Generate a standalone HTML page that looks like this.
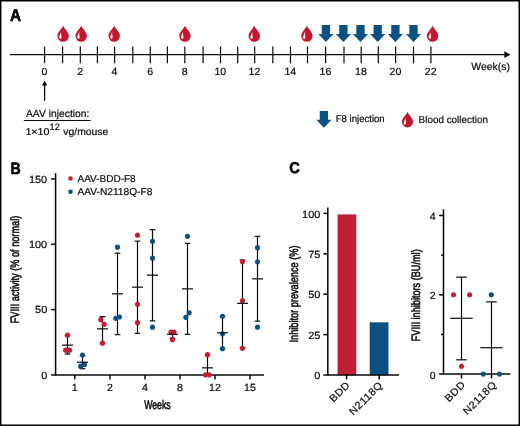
<!DOCTYPE html>
<html lang="en">
<head>
<meta charset="utf-8">
<title>Figure</title>
<style>
html,body{margin:0;padding:0;background:#fff;}
body{width:520px;height:426px;overflow:hidden;position:relative;}
svg{position:absolute;left:0;top:0;display:block;font-family:"Liberation Sans",Arial,Helvetica,sans-serif;}
text{stroke:#0a0a0a;stroke-width:0.2px;stroke-linejoin:round;text-rendering:geometricPrecision;}
.frame{position:absolute;left:0;top:0;width:520px;height:426px;box-sizing:border-box;border-style:solid;border-color:#000;border-width:1.3px 2px 1.5px 1.3px;pointer-events:none;}
</style>
</head>
<body>
<svg width="520" height="426" viewBox="0 0 520 426">
<rect x="0" y="0" width="520" height="426" fill="#fff"/>
<text transform="translate(10,20.5) scale(1,1.1)" font-size="15.4" font-weight="bold" fill="#000" style="stroke:#000;stroke-width:0.6px">A</text>
<line x1="10" y1="54.6" x2="505" y2="54.6" stroke="#0a0a0a" stroke-width="1.15" />
<path d="M510.6,54.6 L504.4,51.300000000000004 L504.4,57.9 Z" fill="#0a0a0a"/>
<line x1="44.6" y1="46.4" x2="44.6" y2="63.3" stroke="#0a0a0a" stroke-width="1.2" />
<line x1="62.6" y1="46.4" x2="62.6" y2="63.3" stroke="#0a0a0a" stroke-width="1.2" />
<line x1="80.3" y1="46.4" x2="80.3" y2="63.3" stroke="#0a0a0a" stroke-width="1.2" />
<line x1="97.4" y1="46.4" x2="97.4" y2="63.3" stroke="#0a0a0a" stroke-width="1.2" />
<line x1="114.6" y1="46.4" x2="114.6" y2="63.3" stroke="#0a0a0a" stroke-width="1.2" />
<line x1="132.8" y1="46.4" x2="132.8" y2="63.3" stroke="#0a0a0a" stroke-width="1.2" />
<line x1="150.3" y1="46.4" x2="150.3" y2="63.3" stroke="#0a0a0a" stroke-width="1.2" />
<line x1="167.4" y1="46.4" x2="167.4" y2="63.3" stroke="#0a0a0a" stroke-width="1.2" />
<line x1="184.8" y1="46.4" x2="184.8" y2="63.3" stroke="#0a0a0a" stroke-width="1.2" />
<line x1="203.1" y1="46.4" x2="203.1" y2="63.3" stroke="#0a0a0a" stroke-width="1.2" />
<line x1="220.5" y1="46.4" x2="220.5" y2="63.3" stroke="#0a0a0a" stroke-width="1.2" />
<line x1="237.7" y1="46.4" x2="237.7" y2="63.3" stroke="#0a0a0a" stroke-width="1.2" />
<line x1="254.7" y1="46.4" x2="254.7" y2="63.3" stroke="#0a0a0a" stroke-width="1.2" />
<line x1="272.8" y1="46.4" x2="272.8" y2="63.3" stroke="#0a0a0a" stroke-width="1.2" />
<line x1="290.5" y1="46.4" x2="290.5" y2="63.3" stroke="#0a0a0a" stroke-width="1.2" />
<line x1="307.5" y1="46.4" x2="307.5" y2="63.3" stroke="#0a0a0a" stroke-width="1.2" />
<line x1="325.6" y1="46.4" x2="325.6" y2="63.3" stroke="#0a0a0a" stroke-width="1.2" />
<line x1="344.0" y1="46.4" x2="344.0" y2="63.3" stroke="#0a0a0a" stroke-width="1.2" />
<line x1="361.2" y1="46.4" x2="361.2" y2="63.3" stroke="#0a0a0a" stroke-width="1.2" />
<line x1="378.3" y1="46.4" x2="378.3" y2="63.3" stroke="#0a0a0a" stroke-width="1.2" />
<line x1="395.6" y1="46.4" x2="395.6" y2="63.3" stroke="#0a0a0a" stroke-width="1.2" />
<line x1="413.5" y1="46.4" x2="413.5" y2="63.3" stroke="#0a0a0a" stroke-width="1.2" />
<line x1="430.9" y1="46.4" x2="430.9" y2="63.3" stroke="#0a0a0a" stroke-width="1.2" />
<text transform="translate(44.4,74.9) scale(1.02,1.0)" font-size="10.4" text-anchor="middle" fill="#0a0a0a">0</text>
<text transform="translate(80.1,74.9) scale(1.02,1.0)" font-size="10.4" text-anchor="middle" fill="#0a0a0a">2</text>
<text transform="translate(114.39999999999999,74.9) scale(1.02,1.0)" font-size="10.4" text-anchor="middle" fill="#0a0a0a">4</text>
<text transform="translate(150.10000000000002,74.9) scale(1.02,1.0)" font-size="10.4" text-anchor="middle" fill="#0a0a0a">6</text>
<text transform="translate(184.60000000000002,74.9) scale(1.02,1.0)" font-size="10.4" text-anchor="middle" fill="#0a0a0a">8</text>
<text transform="translate(220.3,74.9) scale(1.02,1.0)" font-size="10.4" text-anchor="middle" fill="#0a0a0a">10</text>
<text transform="translate(254.5,74.9) scale(1.02,1.0)" font-size="10.4" text-anchor="middle" fill="#0a0a0a">12</text>
<text transform="translate(290.3,74.9) scale(1.02,1.0)" font-size="10.4" text-anchor="middle" fill="#0a0a0a">14</text>
<text transform="translate(325.40000000000003,74.9) scale(1.02,1.0)" font-size="10.4" text-anchor="middle" fill="#0a0a0a">16</text>
<text transform="translate(361.0,74.9) scale(1.02,1.0)" font-size="10.4" text-anchor="middle" fill="#0a0a0a">18</text>
<text transform="translate(395.40000000000003,74.9) scale(1.02,1.0)" font-size="10.4" text-anchor="middle" fill="#0a0a0a">20</text>
<text transform="translate(430.7,74.9) scale(1.02,1.0)" font-size="10.4" text-anchor="middle" fill="#0a0a0a">22</text>
<text transform="translate(471.2,69.9) scale(1.0078,1.0)" font-size="10.4" text-anchor="start" font-weight="normal" fill="#0a0a0a" >Week(s)</text>
<g transform="translate(63.1,33.8) scale(1.0)"><path d="M0,-8 C1.6,-4.8 5.7,-1.6 5.7,2.3 A5.7,5.7 0 0 1 -5.7,2.3 C-5.7,-1.6 -1.6,-4.8 0,-8 Z" fill="#c1182f"/><path d="M-2.1,-2.2 C-2.05,0.6 -1.6,2.3 -1.6,3.9 C-1.6,5.3 -4.0,5.3 -4.0,3.8 C-4.0,2.6 -2.9,1.2 -2.1,-2.2 Z" fill="#fff"/></g>
<g transform="translate(81.2,33.8) scale(1.0)"><path d="M0,-8 C1.6,-4.8 5.7,-1.6 5.7,2.3 A5.7,5.7 0 0 1 -5.7,2.3 C-5.7,-1.6 -1.6,-4.8 0,-8 Z" fill="#c1182f"/><path d="M-2.1,-2.2 C-2.05,0.6 -1.6,2.3 -1.6,3.9 C-1.6,5.3 -4.0,5.3 -4.0,3.8 C-4.0,2.6 -2.9,1.2 -2.1,-2.2 Z" fill="#fff"/></g>
<g transform="translate(114.2,33.8) scale(1.0)"><path d="M0,-8 C1.6,-4.8 5.7,-1.6 5.7,2.3 A5.7,5.7 0 0 1 -5.7,2.3 C-5.7,-1.6 -1.6,-4.8 0,-8 Z" fill="#c1182f"/><path d="M-2.1,-2.2 C-2.05,0.6 -1.6,2.3 -1.6,3.9 C-1.6,5.3 -4.0,5.3 -4.0,3.8 C-4.0,2.6 -2.9,1.2 -2.1,-2.2 Z" fill="#fff"/></g>
<g transform="translate(185.0,33.8) scale(1.0)"><path d="M0,-8 C1.6,-4.8 5.7,-1.6 5.7,2.3 A5.7,5.7 0 0 1 -5.7,2.3 C-5.7,-1.6 -1.6,-4.8 0,-8 Z" fill="#c1182f"/><path d="M-2.1,-2.2 C-2.05,0.6 -1.6,2.3 -1.6,3.9 C-1.6,5.3 -4.0,5.3 -4.0,3.8 C-4.0,2.6 -2.9,1.2 -2.1,-2.2 Z" fill="#fff"/></g>
<g transform="translate(254.3,33.8) scale(1.0)"><path d="M0,-8 C1.6,-4.8 5.7,-1.6 5.7,2.3 A5.7,5.7 0 0 1 -5.7,2.3 C-5.7,-1.6 -1.6,-4.8 0,-8 Z" fill="#c1182f"/><path d="M-2.1,-2.2 C-2.05,0.6 -1.6,2.3 -1.6,3.9 C-1.6,5.3 -4.0,5.3 -4.0,3.8 C-4.0,2.6 -2.9,1.2 -2.1,-2.2 Z" fill="#fff"/></g>
<g transform="translate(306.9,33.8) scale(1.0)"><path d="M0,-8 C1.6,-4.8 5.7,-1.6 5.7,2.3 A5.7,5.7 0 0 1 -5.7,2.3 C-5.7,-1.6 -1.6,-4.8 0,-8 Z" fill="#c1182f"/><path d="M-2.1,-2.2 C-2.05,0.6 -1.6,2.3 -1.6,3.9 C-1.6,5.3 -4.0,5.3 -4.0,3.8 C-4.0,2.6 -2.9,1.2 -2.1,-2.2 Z" fill="#fff"/></g>
<g transform="translate(432.6,33.8) scale(1.0)"><path d="M0,-8 C1.6,-4.8 5.7,-1.6 5.7,2.3 A5.7,5.7 0 0 1 -5.7,2.3 C-5.7,-1.6 -1.6,-4.8 0,-8 Z" fill="#c1182f"/><path d="M-2.1,-2.2 C-2.05,0.6 -1.6,2.3 -1.6,3.9 C-1.6,5.3 -4.0,5.3 -4.0,3.8 C-4.0,2.6 -2.9,1.2 -2.1,-2.2 Z" fill="#fff"/></g>
<g transform="translate(325.9,25.1) scale(1.0)"><path d="M-4.15,0 H4.15 V8.8 H7.6 L0,16.8 L-7.6,8.8 H-4.15 Z" fill="#0d5084"/></g>
<g transform="translate(343.4,25.1) scale(1.0)"><path d="M-4.15,0 H4.15 V8.8 H7.6 L0,16.8 L-7.6,8.8 H-4.15 Z" fill="#0d5084"/></g>
<g transform="translate(360.5,25.1) scale(1.0)"><path d="M-4.15,0 H4.15 V8.8 H7.6 L0,16.8 L-7.6,8.8 H-4.15 Z" fill="#0d5084"/></g>
<g transform="translate(377.7,25.1) scale(1.0)"><path d="M-4.15,0 H4.15 V8.8 H7.6 L0,16.8 L-7.6,8.8 H-4.15 Z" fill="#0d5084"/></g>
<g transform="translate(395.4,25.1) scale(1.0)"><path d="M-4.15,0 H4.15 V8.8 H7.6 L0,16.8 L-7.6,8.8 H-4.15 Z" fill="#0d5084"/></g>
<g transform="translate(413.5,25.1) scale(1.0)"><path d="M-4.15,0 H4.15 V8.8 H7.6 L0,16.8 L-7.6,8.8 H-4.15 Z" fill="#0d5084"/></g>
<line x1="44.6" y1="84" x2="44.6" y2="100.7" stroke="#0a0a0a" stroke-width="1.3" />
<path d="M44.6,80.7 L41.9,85.6 L47.3,85.6 Z" fill="#0a0a0a"/>
<text transform="translate(26,117.3) scale(1.0009,1.0)" font-size="10.3" text-anchor="start" font-weight="normal" fill="#0a0a0a" >AAV injection:</text>
<line x1="23.8" y1="120.5" x2="90.5" y2="120.5" stroke="#0a0a0a" stroke-width="1" />
<text transform="translate(25.4,134.5) scale(1.0652,1.0)" font-size="10" text-anchor="start" font-weight="normal" fill="#0a0a0a" >1×10</text>
<text transform="translate(49.5,130.3) scale(1.0162,1.0)" font-size="9.2" text-anchor="start" font-weight="normal" fill="#0a0a0a" >12</text>
<text transform="translate(63.3,134.5) scale(1.0378,1.0)" font-size="10" text-anchor="start" font-weight="normal" fill="#0a0a0a" >vg/mouse</text>
<g transform="translate(323.9,111.0) scale(1.0)"><path d="M-4.15,0 H4.15 V8.8 H7.6 L0,16.8 L-7.6,8.8 H-4.15 Z" fill="#0d5084"/></g>
<text transform="translate(335.7,122.2) scale(0.9703,1.0)" font-size="9.9" text-anchor="start" font-weight="normal" fill="#0a0a0a" >F8 injection</text>
<g transform="translate(407.5,119.7) scale(0.97)"><path d="M0,-8 C1.6,-4.8 5.7,-1.6 5.7,2.3 A5.7,5.7 0 0 1 -5.7,2.3 C-5.7,-1.6 -1.6,-4.8 0,-8 Z" fill="#c1182f"/><path d="M-2.1,-2.2 C-2.05,0.6 -1.6,2.3 -1.6,3.9 C-1.6,5.3 -4.0,5.3 -4.0,3.8 C-4.0,2.6 -2.9,1.2 -2.1,-2.2 Z" fill="#fff"/></g>
<text transform="translate(418.6,122.7) scale(0.9893,1.0)" font-size="10" text-anchor="start" font-weight="normal" fill="#0a0a0a" >Blood collection</text>
<text transform="translate(10.4,173.9) scale(0.92,1.07)" font-size="15.4" font-weight="bold" fill="#000" style="stroke:#000;stroke-width:0.6px">B</text>
<line x1="55.6" y1="173.2" x2="55.6" y2="375.75" stroke="#0a0a0a" stroke-width="1.55" />
<line x1="51.2" y1="375.0" x2="264" y2="375.0" stroke="#0a0a0a" stroke-width="1.5" />
<text transform="translate(47.2,378.6) scale(1.05,1.0)" font-size="10.4" text-anchor="end" fill="#0a0a0a">0</text>
<line x1="51.2" y1="309.63" x2="55.6" y2="309.63" stroke="#0a0a0a" stroke-width="1.55" />
<text transform="translate(47.2,313.23) scale(1.05,1.0)" font-size="10.4" text-anchor="end" fill="#0a0a0a">50</text>
<line x1="51.2" y1="244.27" x2="55.6" y2="244.27" stroke="#0a0a0a" stroke-width="1.55" />
<text transform="translate(47.2,247.87) scale(1.05,1.0)" font-size="10.4" text-anchor="end" fill="#0a0a0a">100</text>
<line x1="51.2" y1="178.91" x2="55.6" y2="178.91" stroke="#0a0a0a" stroke-width="1.55" />
<text transform="translate(47.2,182.51) scale(1.05,1.0)" font-size="10.4" text-anchor="end" fill="#0a0a0a">150</text>
<line x1="74.8" y1="375.0" x2="74.8" y2="379.4" stroke="#0a0a0a" stroke-width="1.5" />
<text transform="translate(74.8,391.0) scale(1.02,1.0)" font-size="10.4" text-anchor="middle" fill="#0a0a0a">1</text>
<line x1="110" y1="375.0" x2="110" y2="379.4" stroke="#0a0a0a" stroke-width="1.5" />
<text transform="translate(110,391.0) scale(1.02,1.0)" font-size="10.4" text-anchor="middle" fill="#0a0a0a">2</text>
<line x1="145" y1="375.0" x2="145" y2="379.4" stroke="#0a0a0a" stroke-width="1.5" />
<text transform="translate(145,391.0) scale(1.02,1.0)" font-size="10.4" text-anchor="middle" fill="#0a0a0a">4</text>
<line x1="180" y1="375.0" x2="180" y2="379.4" stroke="#0a0a0a" stroke-width="1.5" />
<text transform="translate(180,391.0) scale(1.02,1.0)" font-size="10.4" text-anchor="middle" fill="#0a0a0a">8</text>
<line x1="215" y1="375.0" x2="215" y2="379.4" stroke="#0a0a0a" stroke-width="1.5" />
<text transform="translate(215,391.0) scale(1.02,1.0)" font-size="10.4" text-anchor="middle" fill="#0a0a0a">12</text>
<line x1="250" y1="375.0" x2="250" y2="379.4" stroke="#0a0a0a" stroke-width="1.5" />
<text transform="translate(250,391.0) scale(1.02,1.0)" font-size="10.4" text-anchor="middle" fill="#0a0a0a">15</text>
<text transform="translate(157.4,408.8) scale(0.6925,1.0)" font-size="12.6" text-anchor="middle" font-weight="normal" fill="#0a0a0a" style="stroke-width:0.55px" >Weeks</text>
<text transform="translate(19.2,269.5) rotate(-90) scale(0.7522,1.0)" font-size="12.2" text-anchor="middle" font-weight="normal" fill="#0a0a0a" style="stroke-width:0.55px" >FVIII activity (% of normal)</text>
<circle cx="70.5" cy="178.5" r="2.3" fill="#c41e35"/>
<circle cx="70.5" cy="191.8" r="2.3" fill="#0d5084"/>
<text transform="translate(77.5,181.8) scale(1.0,1.0)" font-size="10" text-anchor="start" fill="#0a0a0a">AAV-BDD-F8</text>
<text transform="translate(77.5,195.1) scale(1.018,1.0)" font-size="10" text-anchor="start" fill="#0a0a0a">AAV-N2118Q-F8</text>
<line x1="67.5" y1="335.65" x2="67.5" y2="354.05" stroke="#0a0a0a" stroke-width="1.2" />
<line x1="64.7" y1="335.65" x2="70.3" y2="335.65" stroke="#0a0a0a" stroke-width="1.2" />
<line x1="64.7" y1="354.05" x2="70.3" y2="354.05" stroke="#0a0a0a" stroke-width="1.2" />
<circle cx="67.5" cy="335.15" r="2.55" fill="#c41e35"/>
<circle cx="65.6" cy="350.15" r="2.55" fill="#c41e35"/>
<circle cx="69.5" cy="350.15" r="2.55" fill="#c41e35"/>
<line x1="62.0" y1="345.15" x2="73.0" y2="345.15" stroke="#0a0a0a" stroke-width="1.2" />
<line x1="82.5" y1="355.65" x2="82.5" y2="368.75" stroke="#0a0a0a" stroke-width="1.2" />
<line x1="79.7" y1="355.65" x2="85.3" y2="355.65" stroke="#0a0a0a" stroke-width="1.2" />
<line x1="79.7" y1="368.75" x2="85.3" y2="368.75" stroke="#0a0a0a" stroke-width="1.2" />
<circle cx="82.5" cy="354.95" r="2.55" fill="#0d5084"/>
<circle cx="80.6" cy="366.15" r="2.55" fill="#0d5084"/>
<circle cx="84.5" cy="364.45" r="2.55" fill="#0d5084"/>
<line x1="77.0" y1="362.25" x2="88.0" y2="362.25" stroke="#0a0a0a" stroke-width="1.2" />
<line x1="102.5" y1="316.65" x2="102.5" y2="342.65" stroke="#0a0a0a" stroke-width="1.2" />
<line x1="99.7" y1="316.65" x2="105.3" y2="316.65" stroke="#0a0a0a" stroke-width="1.2" />
<line x1="99.7" y1="342.65" x2="105.3" y2="342.65" stroke="#0a0a0a" stroke-width="1.2" />
<circle cx="100.8" cy="319.65" r="2.55" fill="#c41e35"/>
<circle cx="104.2" cy="324.35" r="2.55" fill="#c41e35"/>
<circle cx="102.5" cy="343.15" r="2.55" fill="#c41e35"/>
<line x1="97.0" y1="328.85" x2="108.0" y2="328.85" stroke="#0a0a0a" stroke-width="1.2" />
<line x1="117.5" y1="253.15" x2="117.5" y2="334.65" stroke="#0a0a0a" stroke-width="1.2" />
<line x1="114.7" y1="253.15" x2="120.3" y2="253.15" stroke="#0a0a0a" stroke-width="1.2" />
<line x1="114.7" y1="334.65" x2="120.3" y2="334.65" stroke="#0a0a0a" stroke-width="1.2" />
<circle cx="117.5" cy="247.15" r="2.55" fill="#0d5084"/>
<circle cx="115.8" cy="318.35" r="2.55" fill="#0d5084"/>
<circle cx="119.5" cy="316.95" r="2.55" fill="#0d5084"/>
<line x1="112.0" y1="293.85" x2="123.0" y2="293.85" stroke="#0a0a0a" stroke-width="1.2" />
<line x1="137.5" y1="241.15" x2="137.5" y2="333.35" stroke="#0a0a0a" stroke-width="1.2" />
<line x1="134.7" y1="241.15" x2="140.3" y2="241.15" stroke="#0a0a0a" stroke-width="1.2" />
<line x1="134.7" y1="333.35" x2="140.3" y2="333.35" stroke="#0a0a0a" stroke-width="1.2" />
<circle cx="137.5" cy="235.15" r="2.55" fill="#c41e35"/>
<circle cx="137.5" cy="304.35" r="2.55" fill="#c41e35"/>
<circle cx="137.5" cy="322.65" r="2.55" fill="#c41e35"/>
<line x1="132.0" y1="287.15" x2="143.0" y2="287.15" stroke="#0a0a0a" stroke-width="1.2" />
<line x1="152.5" y1="229.65" x2="152.5" y2="320.85" stroke="#0a0a0a" stroke-width="1.2" />
<line x1="149.7" y1="229.65" x2="155.3" y2="229.65" stroke="#0a0a0a" stroke-width="1.2" />
<line x1="149.7" y1="320.85" x2="155.3" y2="320.85" stroke="#0a0a0a" stroke-width="1.2" />
<circle cx="152.5" cy="241.35" r="2.55" fill="#0d5084"/>
<circle cx="152.5" cy="258.15" r="2.55" fill="#0d5084"/>
<circle cx="152.5" cy="327.15" r="2.55" fill="#0d5084"/>
<line x1="147.0" y1="275.15" x2="158.0" y2="275.15" stroke="#0a0a0a" stroke-width="1.2" />
<line x1="172.5" y1="331.65" x2="172.5" y2="338.15" stroke="#0a0a0a" stroke-width="1.2" />
<line x1="169.7" y1="331.65" x2="175.3" y2="331.65" stroke="#0a0a0a" stroke-width="1.2" />
<line x1="169.7" y1="338.15" x2="175.3" y2="338.15" stroke="#0a0a0a" stroke-width="1.2" />
<circle cx="171" cy="332.15" r="2.55" fill="#c41e35"/>
<circle cx="174" cy="332.15" r="2.55" fill="#c41e35"/>
<circle cx="172.5" cy="339.65" r="2.55" fill="#c41e35"/>
<line x1="167.0" y1="334.35" x2="178.0" y2="334.35" stroke="#0a0a0a" stroke-width="1.2" />
<line x1="187.5" y1="243.35" x2="187.5" y2="334.35" stroke="#0a0a0a" stroke-width="1.2" />
<line x1="184.7" y1="243.35" x2="190.3" y2="243.35" stroke="#0a0a0a" stroke-width="1.2" />
<line x1="184.7" y1="334.35" x2="190.3" y2="334.35" stroke="#0a0a0a" stroke-width="1.2" />
<circle cx="187.5" cy="236.35" r="2.55" fill="#0d5084"/>
<circle cx="189.2" cy="312.85" r="2.55" fill="#0d5084"/>
<circle cx="185.8" cy="317.35" r="2.55" fill="#0d5084"/>
<line x1="182.0" y1="288.85" x2="193.0" y2="288.85" stroke="#0a0a0a" stroke-width="1.2" />
<line x1="207.5" y1="355.15" x2="207.5" y2="374.7" stroke="#0a0a0a" stroke-width="1.2" />
<line x1="204.7" y1="355.15" x2="210.3" y2="355.15" stroke="#0a0a0a" stroke-width="1.2" />
<circle cx="207.5" cy="354.65" r="2.55" fill="#c41e35"/>
<circle cx="205.6" cy="374.85" r="2.55" fill="#c41e35"/>
<circle cx="209.3" cy="374.85" r="2.55" fill="#c41e35"/>
<line x1="202.0" y1="367.85" x2="213.0" y2="367.85" stroke="#0a0a0a" stroke-width="1.2" />
<line x1="222.5" y1="316.65" x2="222.5" y2="348.65" stroke="#0a0a0a" stroke-width="1.2" />
<line x1="219.7" y1="316.65" x2="225.3" y2="316.65" stroke="#0a0a0a" stroke-width="1.2" />
<line x1="219.7" y1="348.65" x2="225.3" y2="348.65" stroke="#0a0a0a" stroke-width="1.2" />
<circle cx="222.5" cy="316.35" r="2.55" fill="#0d5084"/>
<circle cx="222.5" cy="333.85" r="2.55" fill="#0d5084"/>
<circle cx="222.5" cy="348.65" r="2.55" fill="#0d5084"/>
<line x1="217.0" y1="332.85" x2="228.0" y2="332.85" stroke="#0a0a0a" stroke-width="1.2" />
<line x1="242.5" y1="260.15" x2="242.5" y2="347.65" stroke="#0a0a0a" stroke-width="1.2" />
<line x1="239.7" y1="260.15" x2="245.3" y2="260.15" stroke="#0a0a0a" stroke-width="1.2" />
<line x1="239.7" y1="347.65" x2="245.3" y2="347.65" stroke="#0a0a0a" stroke-width="1.2" />
<circle cx="242.5" cy="261.65" r="2.55" fill="#c41e35"/>
<circle cx="242.5" cy="300.65" r="2.55" fill="#c41e35"/>
<circle cx="242.5" cy="348.35" r="2.55" fill="#c41e35"/>
<line x1="237.0" y1="303.35" x2="248.0" y2="303.35" stroke="#0a0a0a" stroke-width="1.2" />
<line x1="257.5" y1="236.35" x2="257.5" y2="321.15" stroke="#0a0a0a" stroke-width="1.2" />
<line x1="254.7" y1="236.35" x2="260.3" y2="236.35" stroke="#0a0a0a" stroke-width="1.2" />
<line x1="254.7" y1="321.15" x2="260.3" y2="321.15" stroke="#0a0a0a" stroke-width="1.2" />
<circle cx="257.5" cy="247.65" r="2.55" fill="#0d5084"/>
<circle cx="257.5" cy="261.85" r="2.55" fill="#0d5084"/>
<circle cx="257.5" cy="327.15" r="2.55" fill="#0d5084"/>
<line x1="252.0" y1="278.85" x2="263.0" y2="278.85" stroke="#0a0a0a" stroke-width="1.2" />
<text transform="translate(289.2,172.8) scale(0.95,1.02)" font-size="15.4" font-weight="bold" fill="#000" style="stroke:#000;stroke-width:0.6px">C</text>
<rect x="337.9" y="214.8" width="18.1" height="160.20" fill="#c41e35" stroke="#b0142a" stroke-width="0.5"/>
<rect x="370" y="322.7" width="18.1" height="52.30" fill="#0d5084" stroke="#0a3f6c" stroke-width="0.5"/>
<line x1="327.8" y1="207.5" x2="327.8" y2="375.75" stroke="#0a0a0a" stroke-width="1.55" />
<line x1="323.40000000000003" y1="375.0" x2="399" y2="375.0" stroke="#0a0a0a" stroke-width="1.5" />
<text transform="translate(320.4,379.2) scale(1.06,1.0)" font-size="10.4" text-anchor="end" fill="#0a0a0a">0</text>
<line x1="323.40000000000003" y1="334.6" x2="327.8" y2="334.6" stroke="#0a0a0a" stroke-width="1.55" />
<text transform="translate(320.4,338.8) scale(1.06,1.0)" font-size="10.4" text-anchor="end" fill="#0a0a0a">25</text>
<line x1="323.40000000000003" y1="294.2" x2="327.8" y2="294.2" stroke="#0a0a0a" stroke-width="1.55" />
<text transform="translate(320.4,298.4) scale(1.06,1.0)" font-size="10.4" text-anchor="end" fill="#0a0a0a">50</text>
<line x1="323.40000000000003" y1="253.8" x2="327.8" y2="253.8" stroke="#0a0a0a" stroke-width="1.55" />
<text transform="translate(320.4,258.0) scale(1.06,1.0)" font-size="10.4" text-anchor="end" fill="#0a0a0a">75</text>
<line x1="323.40000000000003" y1="213.4" x2="327.8" y2="213.4" stroke="#0a0a0a" stroke-width="1.55" />
<text transform="translate(320.4,217.6) scale(1.06,1.0)" font-size="10.4" text-anchor="end" fill="#0a0a0a">100</text>
<line x1="346.6" y1="375.0" x2="346.6" y2="379.4" stroke="#0a0a0a" stroke-width="1.5" />
<text transform="translate(350.70000000000005,385.6) rotate(-45) scale(1.04,1.0)" font-size="10.3" text-anchor="end" fill="#0a0a0a" letter-spacing="0.55">BDD</text>
<line x1="379.2" y1="375.0" x2="379.2" y2="379.4" stroke="#0a0a0a" stroke-width="1.5" />
<text transform="translate(383.3,385.6) rotate(-45) scale(1.04,1.0)" font-size="10.3" text-anchor="end" fill="#0a0a0a" letter-spacing="0.55">N2118Q</text>
<text transform="translate(298.2,294) rotate(-90) scale(0.7536,1.0)" font-size="12.2" text-anchor="middle" font-weight="normal" fill="#0a0a0a" style="stroke-width:0.55px" >Inhibitor prevalence (%)</text>
<line x1="443.5" y1="209.4" x2="443.5" y2="374.85" stroke="#0a0a0a" stroke-width="1.55" />
<line x1="439.1" y1="374.1" x2="510.5" y2="374.1" stroke="#0a0a0a" stroke-width="1.5" />
<text transform="translate(435.6,378.5) scale(1.02,1.0)" font-size="10.4" text-anchor="end" fill="#0a0a0a">0</text>
<line x1="439.1" y1="294.8" x2="443.5" y2="294.8" stroke="#0a0a0a" stroke-width="1.55" />
<text transform="translate(435.6,299.2) scale(1.02,1.0)" font-size="10.4" text-anchor="end" fill="#0a0a0a">2</text>
<line x1="439.1" y1="215.5" x2="443.5" y2="215.5" stroke="#0a0a0a" stroke-width="1.55" />
<text transform="translate(435.6,219.9) scale(1.02,1.0)" font-size="10.4" text-anchor="end" fill="#0a0a0a">4</text>
<line x1="441.1" y1="334.45" x2="443.5" y2="334.45" stroke="#0a0a0a" stroke-width="1.55" />
<line x1="441.1" y1="255.15" x2="443.5" y2="255.15" stroke="#0a0a0a" stroke-width="1.55" />
<line x1="461.5" y1="374.1" x2="461.5" y2="378.5" stroke="#0a0a0a" stroke-width="1.5" />
<text transform="translate(466.1,385.2) rotate(-45) scale(1.04,1.0)" font-size="10.3" text-anchor="end" fill="#0a0a0a" letter-spacing="0.55">BDD</text>
<line x1="491.5" y1="374.1" x2="491.5" y2="378.5" stroke="#0a0a0a" stroke-width="1.5" />
<text transform="translate(497.20000000000005,385.2) rotate(-45) scale(1.04,1.0)" font-size="10.3" text-anchor="end" fill="#0a0a0a" letter-spacing="0.55">N2118Q</text>
<text transform="translate(419.6,295.3) rotate(-90) scale(0.7505,1.0)" font-size="12.2" text-anchor="middle" font-weight="normal" fill="#0a0a0a" style="stroke-width:0.55px" >FVIII inhibitors (BU/ml)</text>
<line x1="461.5" y1="277.2" x2="461.5" y2="359.8" stroke="#0a0a0a" stroke-width="1.2" />
<line x1="456.2" y1="277.2" x2="466.8" y2="277.2" stroke="#0a0a0a" stroke-width="1.2" />
<line x1="456.2" y1="359.8" x2="466.8" y2="359.8" stroke="#0a0a0a" stroke-width="1.2" />
<circle cx="453.5" cy="294.8" r="2.55" fill="#c41e35"/>
<circle cx="469.6" cy="294.8" r="2.55" fill="#c41e35"/>
<circle cx="461.5" cy="366.2" r="2.55" fill="#c41e35"/>
<line x1="450.3" y1="318.3" x2="472.7" y2="318.3" stroke="#0a0a0a" stroke-width="1.2" />
<line x1="491.5" y1="301.9" x2="491.5" y2="374.1" stroke="#0a0a0a" stroke-width="1.2" />
<line x1="486.2" y1="301.9" x2="496.8" y2="301.9" stroke="#0a0a0a" stroke-width="1.2" />
<circle cx="491.3" cy="294.8" r="2.55" fill="#0d5084"/>
<circle cx="483.3" cy="374.1" r="2.55" fill="#0d5084"/>
<circle cx="499.5" cy="374.1" r="2.55" fill="#0d5084"/>
<line x1="480.3" y1="347.7" x2="502.7" y2="347.7" stroke="#0a0a0a" stroke-width="1.2" />
<path d="M0,0H520V426H0Z M1.45,1.5V424.5H518.5V1.5Z" fill="#000" fill-rule="evenodd"/>
</svg>
</body>
</html>
